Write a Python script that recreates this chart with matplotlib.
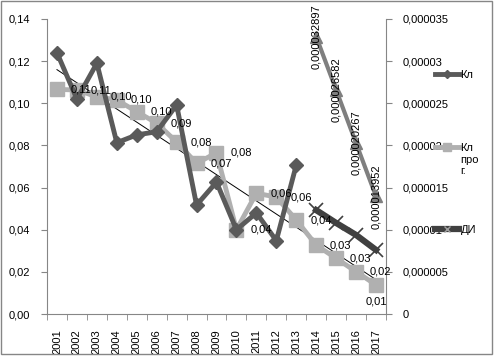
import numpy as np
import matplotlib
matplotlib.use("Agg")
import matplotlib.pyplot as plt
from matplotlib.lines import Line2D
from matplotlib.patches import Rectangle
from matplotlib.ticker import FuncFormatter, MultipleLocator

plt.rcParams['font.family'] = ['Liberation Sans', 'DejaVu Sans']

years = [str(y) for y in range(2001, 2018)]

# Кл, observed 2001-2013
kl = [0.124, 0.102, 0.119, 0.0813, 0.085, 0.0865, 0.0992, 0.0517, 0.0626,
      0.040, 0.048, 0.0348, 0.0707]
# Кл прог., 2001-2017
kl_prog = [0.1066, 0.1063, 0.1031, 0.1016, 0.096, 0.0906, 0.0816, 0.0715, 0.0765,
           0.040, 0.0573, 0.0555, 0.0446, 0.0327, 0.0264, 0.0201, 0.0138]
kl_prog_labels = ["0,11", "0,11", "0,10", "0,10", "0,10", "0,09", "0,08", "0,07", "0,08",
                  "0,04", "0,06", "0,06", "0,04", "0,03", "0,03", "0,02", "0,01"]
# ДИ, 2014-2017
di = [0.0493, 0.0432, 0.0375, 0.0304]
# forecast on secondary axis, 2014-2017
fc = [0.000032897, 0.000026582, 0.000020267, 0.000013952]
fc_labels = ["0,000032897", "0,000026582", "0,000020267", "0,000013952"]

W, H = 495, 357
fig = plt.figure(figsize=(W / 100, H / 100), dpi=100)
ax = fig.add_axes([47 / W, 1 - 314 / H, (386 - 47) / W, (314 - 19) / H])
ax2 = ax.twinx()

x = np.arange(len(years))
grey = '#868686'

# trend line of Кл прог.
k, b = np.polyfit(x, kl_prog, 1)
ax.plot(x, k * x + b, color='black', lw=0.7, zorder=2)

ax.plot(x, kl_prog, color='#b0b0b0', lw=3.5, marker='s', ms=10, zorder=3)
ax.plot(x[:len(kl)], kl, color='#5a5a5a', lw=3.5, marker='D', ms=7, zorder=4)
ax.plot(x[-len(di):], di, color='#404040', lw=4.5, marker='x', ms=10,
        mew=1.2, zorder=4)

for i, (v, t) in enumerate(zip(kl_prog, kl_prog_labels)):
    if i == len(kl_prog) - 1:
        ax.annotate(t, (x[i], v), xytext=(0, -12), textcoords='offset points',
                    ha='center', va='center', fontsize=8, zorder=6)
    else:
        ax.annotate(t, (x[i], v), xytext=(10, 0), textcoords='offset points',
                    ha='left', va='center', fontsize=8, zorder=6)

ax2.plot(x[-len(fc):], fc, color='#7f7f7f', lw=3, marker='^', ms=8, zorder=3)
for xi, v, t in zip(x[-len(fc):], fc, fc_labels):
    ax2.text(xi, v, t, rotation=90, ha='center', va='center', fontsize=8, zorder=6)

ax.set_xlim(-0.5, len(years) - 0.5)
ax.set_ylim(0, 0.14)
ax2.set_ylim(0, 0.000035)

ax.yaxis.set_major_locator(MultipleLocator(0.02))
ax.yaxis.set_major_formatter(FuncFormatter(lambda v, p: f"{v:.2f}".replace('.', ',')))


def fmt_right(v, p):
    s = f"{v:.6f}".rstrip('0').rstrip('.')
    return s.replace('.', ',')


ax2.yaxis.set_major_locator(MultipleLocator(0.000005))
ax2.yaxis.set_major_formatter(FuncFormatter(fmt_right))

ax.set_xticks(x)
ax.set_xticklabels(years, rotation=90, fontsize=8)
ax.set_xticks(np.arange(len(years) + 1) - 0.5, minor=True)
ax.tick_params(axis='x', which='major', length=0, pad=11)
ax.tick_params(axis='x', which='minor', length=4, color=grey)
ax.tick_params(axis='y', labelsize=8, length=4, color=grey, pad=8)
ax2.tick_params(axis='y', labelsize=8, length=4, color=grey, pad=8)

for a in (ax, ax2):
    for s in a.spines.values():
        s.set_visible(False)
ax.spines['left'].set_visible(True)
ax.spines['left'].set_color(grey)
ax.spines['bottom'].set_visible(True)
ax.spines['bottom'].set_color(grey)
ax2.spines['right'].set_visible(True)
ax2.spines['right'].set_color(grey)
ax.set_zorder(ax2.get_zorder() + 1)
ax.patch.set_visible(False)


# legend, one entry at a time
def add_leg(handle, label, ytop):
    leg = fig.legend([handle], [label], loc='upper left',
                     bbox_to_anchor=(435 / W, 1 - ytop / H), frameon=False,
                     fontsize=8, handlelength=2.2, handletextpad=0.1,
                     borderpad=0, borderaxespad=0)
    for col in leg._legend_handle_box.get_children():
        for row in col.get_children():
            row.align = 'top'
    return leg


h_kl = Line2D([], [], color='#5a5a5a', lw=3.5, marker='D', ms=4)
h_prog = Line2D([], [], color='#b0b0b0', lw=3.5, marker='s', ms=6)
h_di = Line2D([], [], color='#404040', lw=4.5, marker='x', ms=5, mec='#a0a0a0')
add_leg(h_kl, 'Кл', 70)
add_leg(h_prog, 'Кл\nпро\nг.', 143)
add_leg(h_di, 'ДИ', 225)

fig.patches.append(Rectangle((1 / W, 1 - 354 / H), 491 / W, 353 / H,
                             transform=fig.transFigure, fill=False,
                             edgecolor=grey, lw=1))

fig.savefig('out.png', dpi=100)
